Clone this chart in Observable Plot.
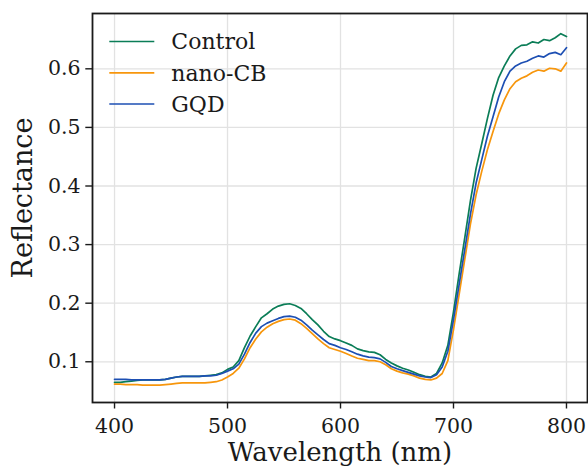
<!DOCTYPE html>
<html><head><meta charset="utf-8">
<script src="https://cdn.jsdelivr.net/npm/d3@7"></script>
<script src="https://cdn.jsdelivr.net/npm/@observablehq/plot@0.6"></script>
<style>body{margin:0;background:#fff;}</style>
</head><body><div id="chart"></div>
<script>
const wavelengths = [400,405,410,415,420,425,430,435,440,445,450,455,460,465,470,475,480,485,490,495,
  500,505,510,515,520,525,530,535,540,545,550,555,560,565,570,575,580,585,590,595,
  600,605,610,615,620,625,630,635,640,645,650,655,660,665,670,675,680,685,690,695,
  700,705,710,715,720,725,730,735,740,745,750,755,760,765,770,775,780,785,790,795,800];
const control = [0.065,0.065,0.066,0.067,0.068,0.069,0.069,0.069,0.069,0.070,0.072,0.074,0.075,0.075,0.075,0.075,0.076,0.077,0.078,0.081,
  0.087,0.091,0.102,0.124,0.144,0.160,0.175,0.182,0.190,0.195,0.198,0.199,0.196,0.191,0.182,0.172,0.163,0.152,0.143,0.139,
  0.136,0.132,0.128,0.122,0.119,0.117,0.116,0.112,0.104,0.098,0.093,0.089,0.086,0.082,0.078,0.075,0.074,0.080,0.098,0.128,
  0.185,0.250,0.312,0.375,0.430,0.472,0.515,0.555,0.585,0.605,0.622,0.634,0.640,0.641,0.646,0.644,0.650,0.648,0.653,0.660,0.655];
const nanoCB = [0.062,0.062,0.061,0.061,0.061,0.060,0.060,0.060,0.060,0.061,0.062,0.063,0.064,0.064,0.064,0.064,0.064,0.065,0.066,0.069,
  0.074,0.080,0.089,0.105,0.124,0.139,0.151,0.159,0.165,0.169,0.172,0.173,0.171,0.165,0.157,0.148,0.139,0.131,0.124,0.121,
  0.118,0.114,0.110,0.106,0.104,0.102,0.102,0.100,0.095,0.088,0.084,0.081,0.079,0.076,0.072,0.070,0.069,0.072,0.080,0.102,
  0.155,0.215,0.275,0.335,0.385,0.425,0.462,0.493,0.523,0.547,0.566,0.578,0.584,0.588,0.594,0.598,0.596,0.601,0.600,0.596,0.610];
const gqd = [0.070,0.070,0.070,0.069,0.069,0.069,0.069,0.069,0.069,0.070,0.072,0.074,0.075,0.075,0.075,0.075,0.076,0.076,0.077,0.080,
  0.084,0.088,0.096,0.113,0.133,0.149,0.160,0.166,0.170,0.174,0.177,0.178,0.176,0.171,0.163,0.154,0.146,0.138,0.131,0.128,
  0.124,0.121,0.117,0.113,0.110,0.108,0.107,0.105,0.099,0.092,0.088,0.085,0.082,0.079,0.076,0.074,0.073,0.078,0.091,0.118,
  0.172,0.232,0.292,0.352,0.405,0.445,0.485,0.518,0.552,0.578,0.596,0.605,0.610,0.613,0.618,0.622,0.620,0.626,0.628,0.624,0.636];
const seriesNames = ["Control", "nano-CB", "GQD"];
const seriesColors = ["#0b7d57", "#f7960c", "#1d4fb3"];
const xTicks = [400, 500, 600, 700, 800];
const yTicks = [0.1, 0.2, 0.3, 0.4, 0.5, 0.6];
const xLabel = "Wavelength (nm)";
const yLabel = "Reflectance";

const rows = [];
[control, nanoCB, gqd].forEach((vals, i) =>
  wavelengths.forEach((w, j) => rows.push({series: seriesNames[i], wl: w, r: vals[j]})));

const font = "DejaVu Serif";
const chart = Plot.plot({
  width: 588, height: 466,
  marginLeft: 92, marginRight: 1, marginTop: 13, marginBottom: 64,
  style: {fontFamily: font, background: "#fff", color: "#1a1a1a"},
  x: {domain: [380.5, 818.6]},
  y: {domain: [0.0305, 0.6944]},
  color: {domain: seriesNames, range: seriesColors},
  marks: [
    Plot.gridX(xTicks, {stroke: "#e2e2e2", strokeOpacity: 1, strokeWidth: 1.3}),
    Plot.gridY(yTicks, {stroke: "#e2e2e2", strokeOpacity: 1, strokeWidth: 1.3}),
    Plot.lineY(rows, {x: "wl", y: "r", z: "series", stroke: "series", strokeWidth: 1.7}),
    Plot.frame({stroke: "#1a1a1a", strokeWidth: 1.8}),
    Plot.axisX({ticks: xTicks, tickSize: 6.5, tickPadding: 9.5, tickFormat: d => String(d),
      fontSize: 20.5, fontFamily: font, strokeWidth: 1.4, label: null}),
    Plot.axisY({ticks: yTicks, tickSize: 6.7, tickPadding: 5.3, tickFormat: d => d.toFixed(1),
      fontSize: 20.5, fontFamily: font, strokeWidth: 1.4, label: null}),
    Plot.text([xLabel], {frameAnchor: "bottom", text: d => d, textAnchor: "middle", lineAnchor: "bottom", dy: 58,
      fontSize: 26, fontFamily: font, fill: "#1a1a1a"}),
    Plot.text([yLabel], {frameAnchor: "left", text: d => d, rotate: -90, textAnchor: "middle", lineAnchor: "middle",
      dx: -69, dy: -10, fontSize: 27, fontFamily: font, fill: "#1a1a1a"})
  ]
});
document.getElementById("chart").appendChild(chart);

// legend (no box, upper-left inside the frame)
const svg = d3.select(chart);
const lg = svg.append("g").attr("class", "legend").attr("text-anchor", "start");
const legendY = [41.5, 72.8, 104];
seriesNames.forEach((name, i) => {
  lg.append("line").attr("x1", 109.3).attr("x2", 154.3)
    .attr("y1", legendY[i]).attr("y2", legendY[i])
    .attr("stroke", seriesColors[i]).attr("stroke-width", 1.7);
  lg.append("text").attr("x", 171.3).attr("y", legendY[i] + 7.8)
    .attr("text-anchor", "start")
    .attr("font-family", font).attr("font-size", 22).attr("fill", "#1a1a1a")
    .text(name);
});
</script>
</body></html>
